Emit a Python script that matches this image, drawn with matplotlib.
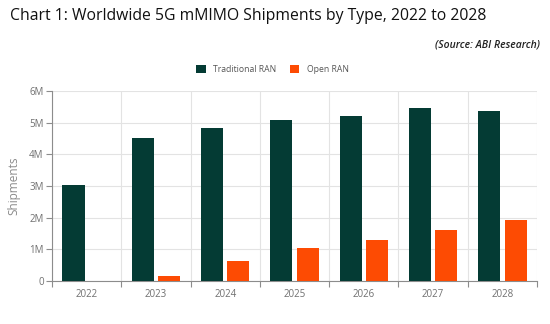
import matplotlib
matplotlib.use("Agg")
import matplotlib.pyplot as plt
import numpy as np
from matplotlib.ticker import FuncFormatter

# ==========================================================
# Data
# ==========================================================

years = ["2022", "2023", "2024", "2025", "2026", "2027", "2028"]
traditional_ran = [3.02, 4.51, 4.83, 5.09, 5.21, 5.45, 5.38]   # millions
open_ran = [0.0, 0.14, 0.64, 1.04, 1.29, 1.61, 1.94]            # millions

# ==========================================================
# Plot
# ==========================================================

plt.rcParams["font.family"] = ["Open Sans", "DejaVu Sans"]

dark = "#043b34"
orange = "#fd4b03"
grid_col = "#e3e3e3"
axis_col = "#8c8c8c"
text_col = "#707070"

fig = plt.figure(figsize=(5.5, 3.24), dpi=100)
ax = fig.add_axes([0.0945, 0.133, 0.882, 0.586])

x = np.arange(len(years))
w = 0.32
gap = 0.06
ax.bar(x - (w + gap) / 2, traditional_ran, width=w, color=dark, label="Traditional RAN", zorder=3)
ax.bar(x + (w + gap) / 2, open_ran, width=w, color=orange, label="Open RAN", zorder=3)

ax.set_xlim(-0.5, len(years) - 0.5)
ax.set_ylim(0, 6)
ax.set_yticks(range(0, 7))
ax.yaxis.set_major_formatter(FuncFormatter(lambda v, p: "0" if v == 0 else f"{int(v)}M"))

ax.set_xticks(x)
ax.set_xticklabels(years)
ax.set_xticks(np.arange(-0.5, len(years)), minor=True)
ax.tick_params(axis="x", which="major", length=0, labelsize=7, colors=text_col, pad=6)
ax.tick_params(axis="x", which="minor", length=4, color=axis_col, width=0.8)
ax.tick_params(axis="y", length=4, color=axis_col, width=0.8, labelsize=7, labelcolor=text_col, pad=2)

ax.grid(True, axis="y", color=grid_col, lw=0.8, zorder=0)
ax.grid(True, axis="x", which="minor", color=grid_col, lw=0.8, zorder=0)

for side in ["top", "right"]:
    ax.spines[side].set_visible(False)
for side in ["left", "bottom"]:
    ax.spines[side].set_color(axis_col)
    ax.spines[side].set_linewidth(0.8)

ax.set_ylabel("Shipments", fontsize=8.5, color="#8a8a8a", labelpad=6)

fig.legend(loc="center", bbox_to_anchor=(0.496, 0.785), ncol=2, frameon=False, fontsize=6.2,
           handlelength=1.05, handleheight=1.05, columnspacing=1.6, handletextpad=0.9,
           labelcolor="#555555")

fig.text(0.018, 0.95, "Chart 1: Worldwide 5G mMIMO Shipments by Type, 2022 to 2028",
         fontsize=11.3, color="#111111", ha="left", va="center")
fig.text(0.982, 0.862, "(Source: ABI Research)", fontsize=7.5, style="italic",
         fontweight="semibold", color="#222222", ha="right", va="center")

fig.savefig("out.png", dpi=100)
